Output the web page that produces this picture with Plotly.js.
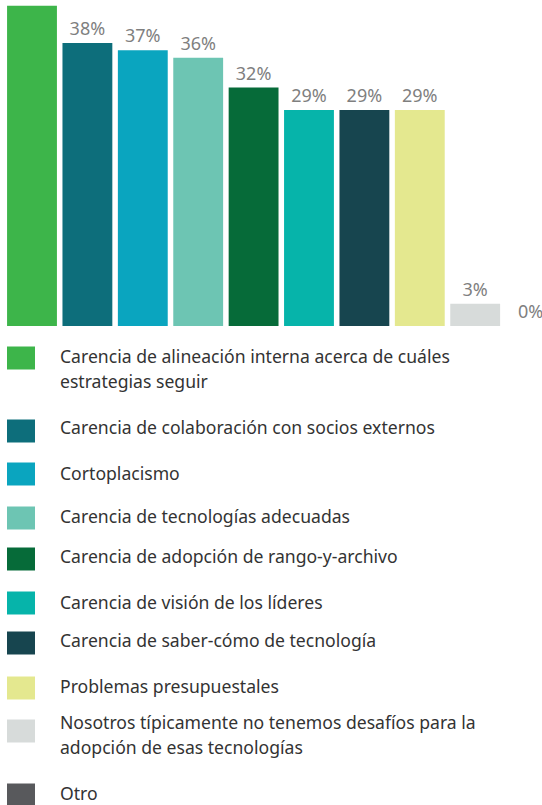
<!DOCTYPE html>
<html>
<head>
<meta charset="utf-8">
<script src="https://cdn.plot.ly/plotly-3.0.1.min.js"></script>
<style>
  html, body { margin: 0; padding: 0; background: #ffffff; }
  #chart { width: 542px; height: 805px; }
</style>
</head>
<body>
<div id="chart"></div>
<script>
// ---- Data ----
const categories = [
  "Carencia de alineación interna acerca de cuáles\nestrategias seguir",
  "Carencia de colaboración con socios externos",
  "Cortoplacismo",
  "Carencia de tecnologías adecuadas",
  "Carencia de adopción de rango-y-archivo",
  "Carencia de visión de los líderes",
  "Carencia de saber-cómo de tecnología",
  "Problemas presupuestales",
  "Nosotros típicamente no tenemos desafíos para la\nadopción de esas tecnologías",
  "Otro"
];
const values = [43, 38, 37, 36, 32, 29, 29, 29, 3, 0];
// first bar's label lies above the top edge in the reference (not visible)
const valueLabels = ["", "38%", "37%", "36%", "32%", "29%", "29%", "29%", "3%", "0%"];
const colors = ["#3db54a", "#0d6e7b", "#0aa5bf", "#6dc5b3", "#066b39", "#06b4aa", "#17454f", "#e4e88f", "#d7dbda", "#58595c"];

// ---- Layout helpers (pixel -> paper) ----
const W = 542, H = 805;
const px = x => x / W;
const py = y => 1 - y / H;

const legendSwatchCenters = [358, 431, 474, 518, 559, 603, 643, 688, 731, 795];
const legendTextCenters   = [356, 427, 473, 516, 556, 602, 640, 686, 722, 793];
const lineStep = 25;

const shapes = [];
const annotations = [];
categories.forEach((label, i) => {
  const cy = legendSwatchCenters[i];
  shapes.push({
    type: "rect", xref: "paper", yref: "paper",
    x0: px(7), x1: px(35), y0: py(cy + 11.5), y1: py(cy - 11.5),
    fillcolor: colors[i], line: { width: 0 }, layer: "above"
  });
  label.split("\n").forEach((line, j) => {
    annotations.push({
      xref: "paper", yref: "paper",
      x: px(58), y: py(legendTextCenters[i] + j * lineStep),
      xanchor: "left", yanchor: "middle",
      text: line, showarrow: false,
      font: { family: "Noto Sans, Open Sans, sans-serif", size: 17.6, color: "#333333" }
    });
  });
});

const trace = {
  type: "bar",
  x: categories.map((c, i) => i),
  y: values,
  text: valueLabels,
  textposition: "outside",
  cliponaxis: false,
  textfont: { family: "Noto Sans, Open Sans, sans-serif", size: 18, color: "#7f7f7f" },
  marker: { color: colors, line: { width: 0 } },
  hoverinfo: "skip",
  showlegend: false
};

const layout = {
  width: W, height: H,
  margin: { l: 0, r: 0, t: 0, b: 0, pad: 0 },
  paper_bgcolor: "#ffffff",
  plot_bgcolor: "#ffffff",
  bargap: 0.1,
  showlegend: false,
  xaxis: {
    domain: [4.3 / W, 1],
    range: [-0.5, 9.206],
    showgrid: false, zeroline: false, showticklabels: false, ticks: "",
    fixedrange: true
  },
  yaxis: {
    domain: [1 - 326 / H, 1],
    range: [0, 43.76],
    showgrid: false, zeroline: false, showticklabels: false, ticks: "",
    fixedrange: true
  },
  shapes: shapes,
  annotations: annotations
};

Plotly.newPlot("chart", [trace], layout, { displayModeBar: false, staticPlot: true });
</script>
</body>
</html>
